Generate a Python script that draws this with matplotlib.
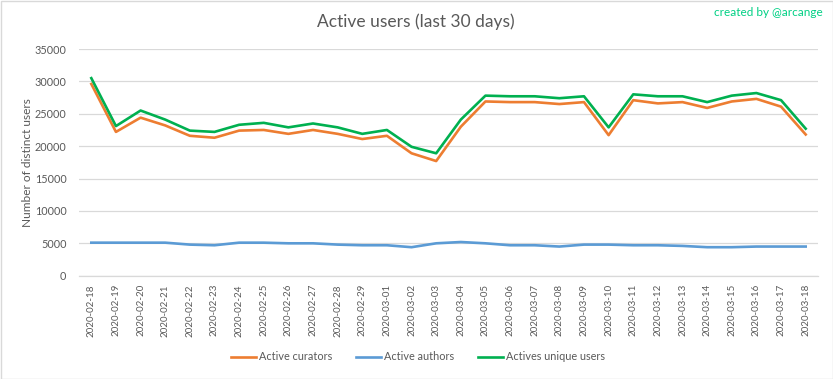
import matplotlib.pyplot as plt
from matplotlib.patches import Rectangle

plt.rcParams['font.family'] = ['Lato', 'DejaVu Sans']

## DATA

dates = ['2020-02-18', '2020-02-19', '2020-02-20', '2020-02-21', '2020-02-22',
         '2020-02-23', '2020-02-24', '2020-02-25', '2020-02-26', '2020-02-27',
         '2020-02-28', '2020-02-29', '2020-03-01', '2020-03-02', '2020-03-03',
         '2020-03-04', '2020-03-05', '2020-03-06', '2020-03-07', '2020-03-08',
         '2020-03-09', '2020-03-10', '2020-03-11', '2020-03-12', '2020-03-13',
         '2020-03-14', '2020-03-15', '2020-03-16', '2020-03-17', '2020-03-18']

curators = [29600, 22200, 24400, 23200, 21600, 21300, 22400, 22500, 21900, 22500,
            21900, 21100, 21600, 18900, 17700, 23000, 26900, 26800, 26800, 26500,
            26800, 21700, 27100, 26600, 26800, 25900, 26900, 27300, 26100, 21800]

authors = [5100, 5100, 5100, 5100, 4800, 4700, 5100, 5100, 5000, 5000,
           4800, 4700, 4700, 4400, 5000, 5200, 5000, 4700, 4700, 4500,
           4800, 4800, 4700, 4700, 4600, 4400, 4400, 4500, 4500, 4500]

unique_users = [30500, 23100, 25500, 24100, 22400, 22200, 23300, 23600, 22900, 23500,
                22900, 21900, 22500, 19900, 18900, 24100, 27800, 27700, 27700, 27400,
                27700, 22900, 28000, 27700, 27700, 26800, 27800, 28200, 27100, 22700]

yticks = [0, 5000, 10000, 15000, 20000, 25000, 30000, 35000]

## PLOT

W, H = 833, 379
fig = plt.figure(figsize=(W / 100, H / 100), dpi=100)
ax = fig.add_axes([79 / W, 1 - 275.7 / H, (818 - 79) / W, (275.7 - 49) / H])

x = range(len(dates))
ax.plot(x, curators, color='#ED7D31', lw=1.9, label='Active curators', solid_joinstyle='round')
ax.plot(x, authors, color='#5B9BD5', lw=1.9, label='Active authors', solid_joinstyle='round')
ax.plot(x, unique_users, color='#00B050', lw=1.9, label='Actives unique users', solid_joinstyle='round')

ax.set_xlim(-0.5, len(dates) - 0.5)
ax.set_ylim(0, 35000)
ax.set_yticks(yticks)
ax.set_yticklabels([str(v) for v in yticks])
ax.set_xticks(list(x))
ax.set_xticklabels(dates, rotation=90)
ax.tick_params(axis='both', length=0, colors='#595959', labelsize=7.8)
ax.tick_params(axis='x', pad=6, labelsize=7.0)
ax.tick_params(axis='y', pad=9)
ax.grid(axis='y', color='#D9D9D9', lw=0.9)
ax.set_axisbelow(True)
for s in ['top', 'right', 'left']:
    ax.spines[s].set_visible(False)
ax.spines['bottom'].set_color('#D9D9D9')
ax.spines['bottom'].set_linewidth(0.9)

ax.set_ylabel('Number of distinct users', color='#595959', fontsize=8.6, labelpad=1)

fig.text(416 / W, 1 - 22 / H, 'Active users (last 30 days)', ha='center', va='center',
         fontsize=12.5, color='#595959')
fig.text(823 / W, 1 - 13 / H, 'created by @arcange', ha='right', va='center',
         fontsize=8.5, color='#00D084')

leg = fig.legend(loc='center', bbox_to_anchor=(418 / W, 1 - 357 / H), ncol=3,
                 frameon=False, fontsize=7.8, handlelength=2.3, handletextpad=0.3,
                 columnspacing=2.2)
for t in leg.get_texts():
    t.set_color('#595959')

fig.patches.append(Rectangle((0.5 / W, 0.5 / H), 1 - 1 / W, 1 - 1 / H, transform=fig.transFigure,
                             fill=False, edgecolor='#D9D9D9', lw=1))

fig.savefig('out.png', dpi=100)
